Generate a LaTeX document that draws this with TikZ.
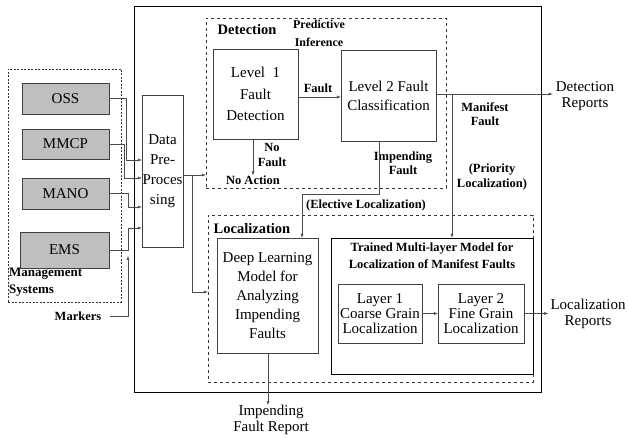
\documentclass[tikz,border=0pt]{standalone}
\usepackage{fontspec}
\setmainfont{Liberation Serif}
\usetikzlibrary{arrows.meta}

\begin{document}
\begin{tikzpicture}[x=1pt, y=-1pt, >={Latex[length=4pt,width=3pt]},
  box/.style={draw=black!75, thin, align=center, inner sep=0pt, font=\fontsize{15}{19}\selectfont},
  msys/.style={box, fill=black!25, minimum width=87pt, minimum height=31pt},
  region/.style={draw=black!80, thin, dashed, inner sep=0pt},
  lbl/.style={align=center, inner sep=0pt, font=\bfseries\fontsize{12.5}{14.5}\selectfont},
  head/.style={inner sep=0pt, font=\bfseries\fontsize{14.5}{17}\selectfont},
  rep/.style={align=center, inner sep=0pt, font=\fontsize{15}{16}\selectfont},
  conn/.style={draw=black!70, thin}]
\useasboundingbox (0,0) rectangle (629,438);
\node[draw=black, thin, inner sep=0pt, minimum width=407pt, minimum height=386pt] (frame) at (337.5,199) {};
\node[draw=black!80, thin, dash pattern=on 2pt off 1.5pt, inner sep=0pt, minimum width=113pt, minimum height=233pt] (mgmt) at (64.5,185.5) {};
\node[region, minimum width=240pt, minimum height=170pt] (det) at (326,103) {};
\node[region, minimum width=325pt, minimum height=167pt] (loc) at (370.5,298.5) {};
\node[msys] (oss) at (65.5,98.5) {OSS};
\node[msys, minimum height=30pt] (mmcp) at (65.5,144) {MMCP};
\node[msys] (mano) at (65.5,193.5) {MANO};
\node[msys, minimum width=89pt, minimum height=36pt] (ems) at (64.5,250) {EMS};
\node[lbl, align=left, anchor=west, font=\bfseries\fontsize{13}{17}\selectfont] (mgmttxt) at (9,282) {Management\\Systems};
\node[lbl] (markers) at (78,316) {Markers};
\node[box, minimum width=41pt, minimum height=152pt, font=\fontsize{15}{20}\selectfont] (pre) at (162.5,171) {Data\\Pre-\\Proces\\sing};
\node[head] (dethead) at (247,30) {Detection};
\node[lbl, font=\bfseries\fontsize{12}{18}\selectfont] (pred) at (319,33) {Predictive\\Inference};
\node[box, minimum width=85pt, minimum height=90pt, font=\fontsize{15}{21.5}\selectfont] (lv1) at (255.5,94) {Level~~1\\Fault\\Detection};
\node[box, minimum width=95pt, minimum height=91pt] (lv2) at (388.5,95.5) {Level 2 Fault\\Classification};
\node[lbl] (flt) at (318,88) {Fault};
\node[lbl] (nofault) at (272,155) {No\\Fault};
\node[lbl] (noact) at (253,180) {No Action};
\node[lbl] (impf) at (403,163) {Impending\\Fault};
\node[lbl] (elect) at (366,205) {(Elective Localization)};
\node[lbl] (manf) at (485,114) {Manifest\\Fault};
\node[lbl] (prio) at (492,177) {(Priority\\Localization)};
\node[rep] (detrep) at (585,96) {Detection\\Reports};
\node[head] (lochead) at (252,229) {Localization};
\node[box, minimum width=101pt, minimum height=115pt] (deep) at (267.5,295.5) {Deep Learning\\Model for\\Analyzing\\Impending\\Faults};
\node[box, draw=black, minimum width=202pt, minimum height=136pt] (trained) at (432,306) {};
\node[lbl, font=\bfseries\fontsize{12.5}{17}\selectfont] (trtitle) at (432,256) {Trained Multi-layer Model for\\Localization of Manifest Faults};
\node[box, minimum width=84pt, minimum height=59pt, font=\fontsize{15}{15}\selectfont] (lay1) at (380,313.5) {Layer 1\\Coarse Grain\\Localization};
\node[box, minimum width=86pt, minimum height=59pt, font=\fontsize{15}{15}\selectfont] (lay2) at (481,313.5) {Layer 2\\Fine Grain\\Localization};
\node[rep] (locrep) at (588,314) {Localization\\Reports};
\node[rep] (imprep) at (271,420) {Impending\\Fault Report};
\draw[conn, ->] (oss.east) -| (126,160) -- (pre.west |- 0,160);
\draw[conn, ->] (mmcp.east) -| (124,178) -- (pre.west |- 0,178);
\draw[conn, ->] (mano.east) -| (128,207) -- (pre.west |- 0,207);
\draw[conn, ->] (ems.east) -| (128,228) -- (pre.west |- 0,228);
\draw[conn, ->, shorten <=9pt] (markers.east) -| (128,256);
\draw[conn, ->] (pre.east |- 0,175) -- (det.west |- 0,175);
\draw[conn, ->] (192,175) |- (loc.west |- 0,292);
\draw[conn, ->] (lv1.east |- 0,97) -- (lv2.west |- 0,97);
\draw[conn, ->] (lv1.south -| noact) -- (noact.north);
\draw[conn, ->, shorten >=3pt] (lv2.east |- 0,94) -- (detrep.west |- 0,94);
\draw[conn, ->] (452,94) -- (trained.north -| 452,0);
\draw[conn, ->] (lv2.south -| 379,0) |- (302,194) -- (deep.north -| 302,0);
\draw[conn, ->] (lay1.east) -- (lay2.west);
\draw[conn, ->, shorten >=2pt] (lay2.east) -- (locrep.west |- lay2.east);
\draw[conn, ->] (deep.south -| 268,0) -- (imprep.north -| 268,0);
\end{tikzpicture}
\end{document}
